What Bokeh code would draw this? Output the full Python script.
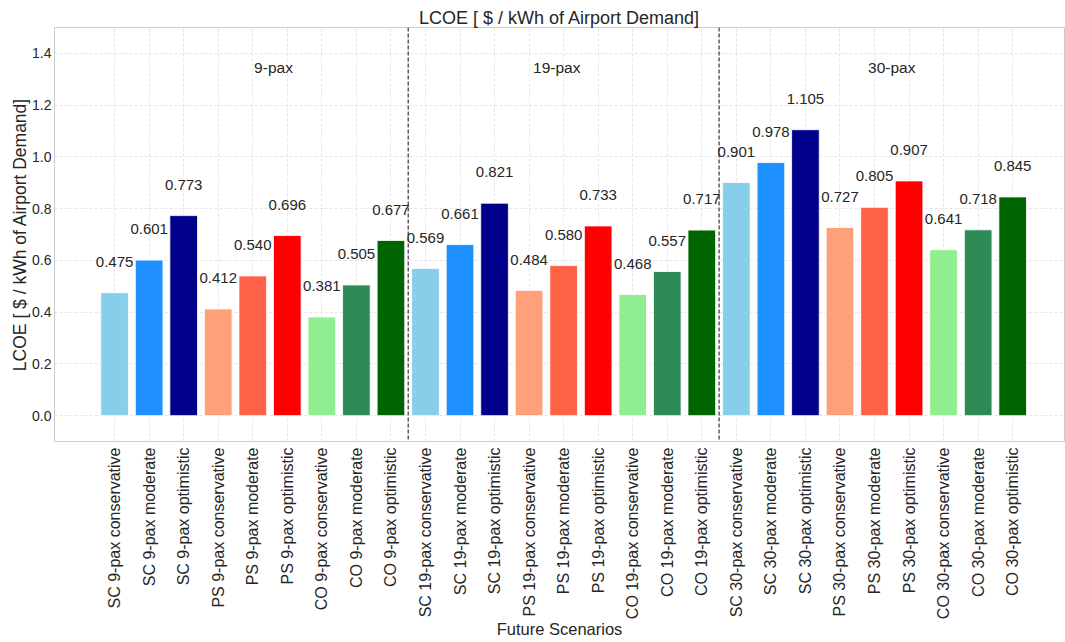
import math
from bokeh.plotting import figure
from bokeh.models import ColumnDataSource, FixedTicker, Span, Label, Range1d
from bokeh.core.properties import value
from bokeh.embed import file_html
from bokeh.resources import INLINE

scenarios = ["SC", "PS", "CO"]
pax = ["9-pax", "19-pax", "30-pax"]
cases = ["conservative", "moderate", "optimistic"]
categories = [f"{s} {p} {c}" for p in pax for s in scenarios for c in cases]
lcoe = [0.475, 0.601, 0.773, 0.412, 0.540, 0.696, 0.381, 0.505, 0.677,
        0.569, 0.661, 0.821, 0.484, 0.580, 0.733, 0.468, 0.557, 0.717,
        0.901, 0.978, 1.105, 0.727, 0.805, 0.907, 0.641, 0.718, 0.845]
palette = ["#87CEEB", "#1E90FF", "#00008B", "#FFA07A", "#FF6347", "#FF0000",
           "#90EE90", "#2E8B57", "#006400"]
group_labels = ["9-pax", "19-pax", "30-pax"]
group_label_x = [4.6, 12.8, 22.5]
yticks = [0.0, 0.2, 0.4, 0.6, 0.8, 1.0, 1.2, 1.4]
title_text = "LCOE [ $ / kWh of Airport Demand]"
ylabel_text = "LCOE [ $ / kWh of Airport Demand]"
xlabel_text = "Future Scenarios"

FONT = "Liberation Sans"
TXT = "#262626"

xs = list(range(len(categories)))
src = ColumnDataSource(dict(
    x=xs, top=lcoe, color=[palette[i % 9] for i in xs],
    ly=[v + 0.1 for v in lcoe], lt=[f"{v:.3f}" for v in lcoe]))

p = figure(width=1065, height=642, output_backend="svg", toolbar_location=None,
           x_range=Range1d(-1.74, 27.5), y_range=Range1d(-0.1, 1.5),
           min_border_left=54, min_border_right=1, min_border_bottom=201,
           min_border_top=27)

p.title.text = title_text
p.title.align = "center"
p.title.text_font = FONT
p.title.text_font_size = "18px"
p.title.text_font_style = "normal"
p.title.text_color = TXT
p.title.standoff = 0
p.title.offset = 0

p.vbar(x="x", top="top", width=0.8, fill_color="color", line_color="white",
       line_width=0.8, source=src)
p.text(x="x", y="ly", text="lt", source=src, text_align="center",
       text_baseline="bottom", text_font=value(FONT), text_font_size="15px",
       text_color=TXT)

for xv in [8.5, 17.5]:
    p.add_layout(Span(location=xv, dimension="height", line_color="#333333",
                      line_dash="4 2", line_width=1.2))

for lab, gx in zip(group_labels, group_label_x):
    p.add_layout(Label(x=gx, y=1.346, text=lab, text_align="center",
                       text_baseline="middle", text_font=FONT,
                       text_font_size="15.5px", text_color=TXT))

p.xaxis.ticker = FixedTicker(ticks=xs)
p.xaxis.major_label_overrides = {i: c for i, c in enumerate(categories)}
p.xaxis.major_label_orientation = math.pi / 2
p.yaxis.ticker = FixedTicker(ticks=yticks)
p.yaxis.major_label_overrides = {v: f"{v:.1f}" for v in yticks}

p.xaxis.axis_label = xlabel_text
p.yaxis.axis_label = ylabel_text
for ax in [p.xaxis, p.yaxis]:
    ax.axis_line_color = None
    ax.major_tick_line_color = None
    ax.minor_tick_line_color = None
    ax.major_tick_out = 0
    ax.major_tick_in = 0
    ax.minor_tick_out = 0
    ax.minor_tick_in = 0
    ax.major_label_text_font = FONT
    ax.major_label_text_color = TXT
    ax.axis_label_text_font = FONT
    ax.axis_label_text_font_style = "normal"
    ax.axis_label_text_color = TXT
p.xaxis.major_label_text_font_size = "16px"
p.yaxis.major_label_text_font_size = "14px"
p.xaxis.axis_label_text_font_size = "16.5px"
p.yaxis.axis_label_text_font_size = "17.5px"
p.xaxis.major_label_standoff = 6
p.yaxis.major_label_standoff = 3
p.xaxis.axis_label_standoff = -2
p.yaxis.axis_label_standoff = -1

p.grid.grid_line_color = "#dedede"
p.grid.grid_line_dash = "3 2"
p.grid.grid_line_width = 0.8
p.outline_line_color = "#cccccc"
p.outline_line_width = 1

open("out.html", "w").write(file_html(p, INLINE))
